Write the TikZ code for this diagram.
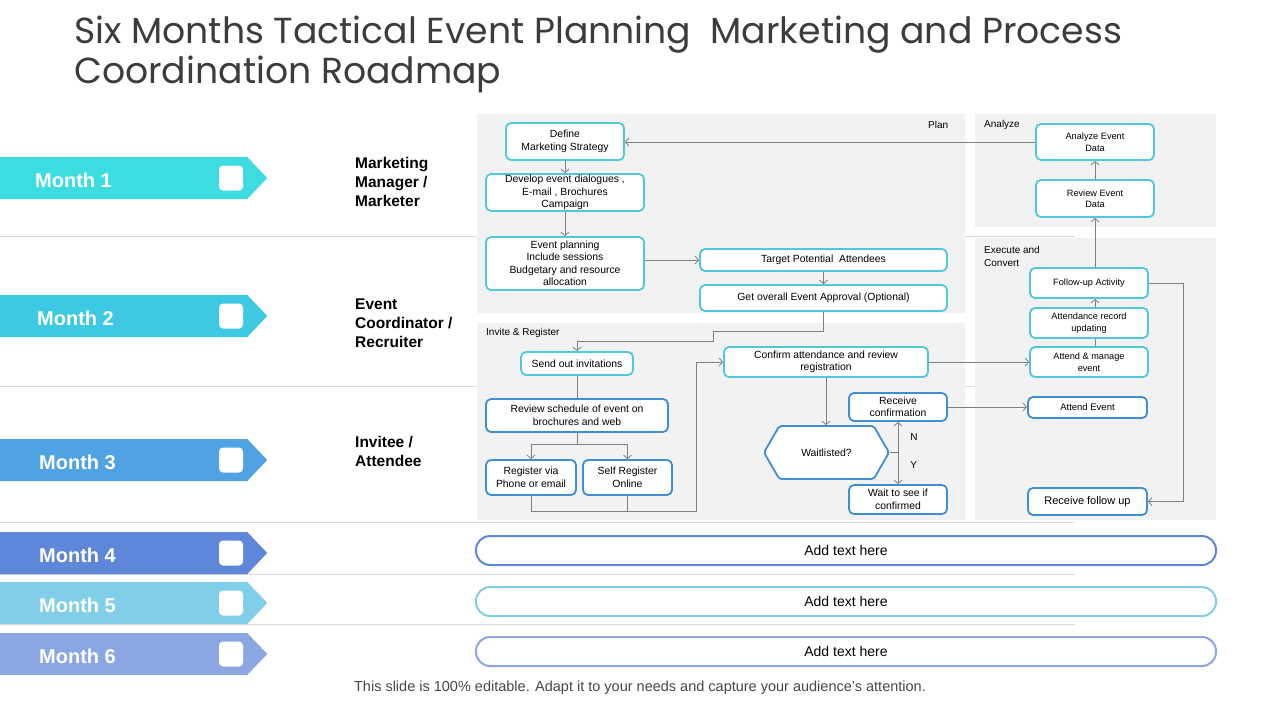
\documentclass[tikz,border=0pt]{standalone}
\usepackage{fontspec}
\setmainfont{Liberation Sans}
\newfontfamily\titlefont{Poppins}
\usetikzlibrary{shapes.symbols,arrows.meta}
\definecolor{monthA}{HTML}{3CDCE0}
\definecolor{monthB}{HTML}{3DC8E4}
\definecolor{monthC}{HTML}{50A3E2}
\definecolor{monthD}{HTML}{5E87DA}
\definecolor{monthE}{HTML}{81CEE9}
\definecolor{monthF}{HTML}{8BA7E1}
\definecolor{panelgray}{HTML}{F2F2F2}
\definecolor{sepgray}{HTML}{D9D9D9}
\definecolor{linegray}{HTML}{7F7F7F}
\definecolor{boxcyan}{HTML}{4DC8DC}
\definecolor{boxblue}{HTML}{3F8FD5}
\definecolor{titlegray}{HTML}{262626}
\begin{document}
\begin{tikzpicture}[x=1pt,y=-1pt,
  box/.style={draw=boxcyan, line width=1.8pt, fill=white, rounded corners=5pt, align=center, inner sep=0pt, font=\fontsize{10.4}{12.5}\selectfont},
  bluebox/.style={box, draw=boxblue},
  flow/.style={draw=linegray, line width=0.8pt, -{Straight Barb[length=3.5pt,width=8pt]}},
  link/.style={draw=linegray, line width=0.8pt},
  monthbar/.style={signal, signal to=east, signal pointer angle=93, minimum width=267pt, minimum height=42pt, inner sep=0pt, anchor=west},
  monthtext/.style={anchor=west, text=white, inner sep=0pt, font=\bfseries\fontsize{20}{24}\selectfont},
  tickbox/.style={fill=white, rounded corners=4pt, minimum width=24pt, minimum height=25pt, inner sep=0pt},
  role/.style={anchor=west, align=left, inner sep=0pt, font=\bfseries\fontsize{15.5}{19}\selectfont},
  panellabel/.style={anchor=west, align=left, inner sep=0pt, font=\fontsize{10}{13}\selectfont},
  pill/.style={draw, line width=2pt, fill=white, rounded corners=14pt, minimum width=740pt, minimum height=29pt, inner sep=0pt, font=\fontsize{14}{16}\selectfont},
  sep/.style={draw=sepgray, line width=1pt}]
\useasboundingbox[fill=white] (0,0) rectangle (1280,720);

% title
\node[anchor=base west, align=left, inner sep=0pt, text=titlegray!90, font=\titlefont\fontsize{36.2}{40}\selectfont] (title) at (74,83) {Six Months Tactical Event Planning\ \ Marketing and Process\\Coordination Roadmap};

% row separators
\draw[sep] (0,236) -- (1075,236);
\draw[sep] (0,386) -- (1075,386);
\draw[sep] (0,522) -- (1075,522);
\draw[sep] (0,574) -- (1075,574);
\draw[sep] (0,624) -- (1075,624);

% months
\foreach \n/\yy/\col/\tx in {1/178/monthA/35, 2/316/monthB/37, 3/460/monthC/39, 4/553/monthD/39, 5/603/monthE/39, 6/654/monthF/39}{
  \node[monthbar, fill=\col] (month\n) at (0,\yy) {};
  \node[monthtext] (month\n-label) at (\tx,\yy+2) {Month \n};
  \node[tickbox] (month\n-box) at (231,\yy) {};
}

% roles
\node[role] (role1) at (355,182) {Marketing\\Manager /\\Marketer};
\node[role] (role2) at (355,323) {Event\\Coordinator /\\Recruiter};
\node[role] (role3) at (355,451) {Invitee /\\Attendee};

% panels
\fill[panelgray] (477,114) rectangle (965,313);
\fill[panelgray] (477,323) rectangle (965,520);
\fill[panelgray] (975,114) rectangle (1216,227);
\fill[panelgray] (975,238) rectangle (1216,520);
\node[panellabel] (plan) at (928,125) {Plan};
\node[panellabel] (analyzelbl) at (984,125) {Analyze};
\node[panellabel] (executelbl) at (984,256) {Execute and\\Convert};
\node[panellabel] (invitelbl) at (486,333) {Invite \& Register};

% plan
\node[box, minimum width=118pt, minimum height=37pt] (define) at (565,141.5) {Define\\Marketing Strategy};
\node[box, minimum width=158pt, minimum height=37pt] (develop) at (565,192.5) {Develop event dialogues ,\\E-mail\ , Brochures\\Campaign};
\node[box, minimum width=158pt, minimum height=53pt] (eplan) at (565,263.5) {Event planning\\Include sessions\\Budgetary and resource\\allocation};
\node[box, minimum width=247pt, minimum height=22pt] (target) at (823.5,260) {Target Potential\ \ Attendees};
\node[box, minimum width=247pt, minimum height=26pt] (approval) at (823.5,298) {Get overall Event Approval (Optional)};

% invite & register
\node[box, minimum width=112pt, minimum height=23pt] (send) at (577,363.5) {Send out invitations};
\node[bluebox, minimum width=182pt, minimum height=33pt] (review) at (577,415.5) {Review schedule of event on\\brochures and web};
\node[bluebox, minimum width=90pt, minimum height=35pt] (regphone) at (531,477.5) {Register via\\Phone or email};
\node[bluebox, minimum width=89pt, minimum height=35pt] (selfreg) at (627.5,477.5) {Self Register\\Online};
\node[box, minimum width=204pt, minimum height=30pt] (confirm) at (826,362) {Confirm attendance and review\\registration};
\node[bluebox, minimum width=98pt, minimum height=28pt] (recconf) at (898,407) {Receive\\confirmation};
\node[bluebox, shape=signal, signal to=east and west, signal pointer angle=120, rounded corners=2pt, minimum width=125pt, minimum height=53pt] (waitl) at (826.5,452.5) {Waitlisted?};
\node[bluebox, minimum width=98pt, minimum height=29pt] (waitconf) at (898,499.5) {Wait to see if\\confirmed};

% analyze
\node[box, minimum width=118pt, minimum height=36pt, font=\fontsize{9.2}{11.5}\selectfont] (analyze) at (1095,142) {Analyze Event\\Data};
\node[box, minimum width=118pt, minimum height=37pt, font=\fontsize{9.2}{11.5}\selectfont] (reviewdata) at (1095,198.5) {Review Event\\Data};

% execute and convert
\node[box, minimum width=118pt, minimum height=30pt, font=\fontsize{9.2}{11.5}\selectfont] (followup) at (1089,283) {Follow-up Activity};
\node[box, minimum width=118pt, minimum height=30pt, font=\fontsize{9.2}{11.5}\selectfont] (attrec) at (1089,323) {Attendance record\\updating};
\node[box, minimum width=118pt, minimum height=30pt, font=\fontsize{9.2}{11.5}\selectfont] (attman) at (1089,362) {Attend \& manage\\event};
\node[bluebox, minimum width=119pt, minimum height=21pt, font=\fontsize{9.5}{11.5}\selectfont] (attevent) at (1087.5,407.5) {Attend Event};
\node[bluebox, minimum width=119pt, minimum height=27pt, font=\fontsize{11}{13}\selectfont] (recfollow) at (1087.5,501.5) {Receive follow up};

% connectors
\draw[flow] (analyze.west) -- (analyze.west -| define.east);
\draw[flow] (define) -- (develop);
\draw[flow] (develop) -- (eplan);
\draw[flow] (eplan.east |- target.west) -- (target.west);
\draw[flow] (target) -- (approval);
\draw[flow] (approval.south) -- ++(0,19) -- ++(-110,0) -- ++(0,10) -| (send.north);
\draw[link] (send) -- (review);
\draw[link] (review.south) -- ++(0,11) coordinate (split);
\draw[flow] (split) -| (regphone.north);
\draw[flow] (split) -| (selfreg.north);
\coordinate (merge) at (696,511);
\draw[link] (selfreg.south) -- (selfreg.south |- merge);
\draw[flow] (regphone.south) |- (merge) |- (confirm.west);
\draw[flow] (confirm.east) -- (attman.west);
\draw[flow] (confirm.south) -- (confirm.south |- waitl.north);
\draw[link] (waitl.east) -- (waitl.east -| recconf.south) coordinate (yn);
\draw[flow] (yn) -- (recconf.south) node[pos=0.5, right=12pt, panellabel] (nlbl) {N};
\draw[flow] (yn) -- (waitconf.north) node[pos=0.4, right=12pt, panellabel] (ylbl) {Y};
\draw[flow] (recconf.east) -- (recconf.east -| attevent.west);
\draw[link] (attman.north -| reviewdata.south) -- (attrec.south -| reviewdata.south);
\draw[flow] (attrec.north -| reviewdata.south) -- (followup.south -| reviewdata.south);
\draw[flow] (followup.north -| reviewdata.south) -- (reviewdata.south);
\draw[flow] (reviewdata) -- (analyze);
\draw[flow] (followup.east) -- ++(34,0) |- (recfollow.east);

% later months
\node[pill, draw=monthD] (add4) at (846,550.5) {Add text here};
\node[pill, draw=monthE] (add5) at (846,601.5) {Add text here};
\node[pill, draw=monthF] (add6) at (846,651.5) {Add text here};

\node[text=titlegray!85, font=\fontsize{14.5}{16}\selectfont] (footer) at (640,688) {This slide is 100\% editable. Adapt it to your needs and capture your audience's attention.};
\end{tikzpicture}
\end{document}
